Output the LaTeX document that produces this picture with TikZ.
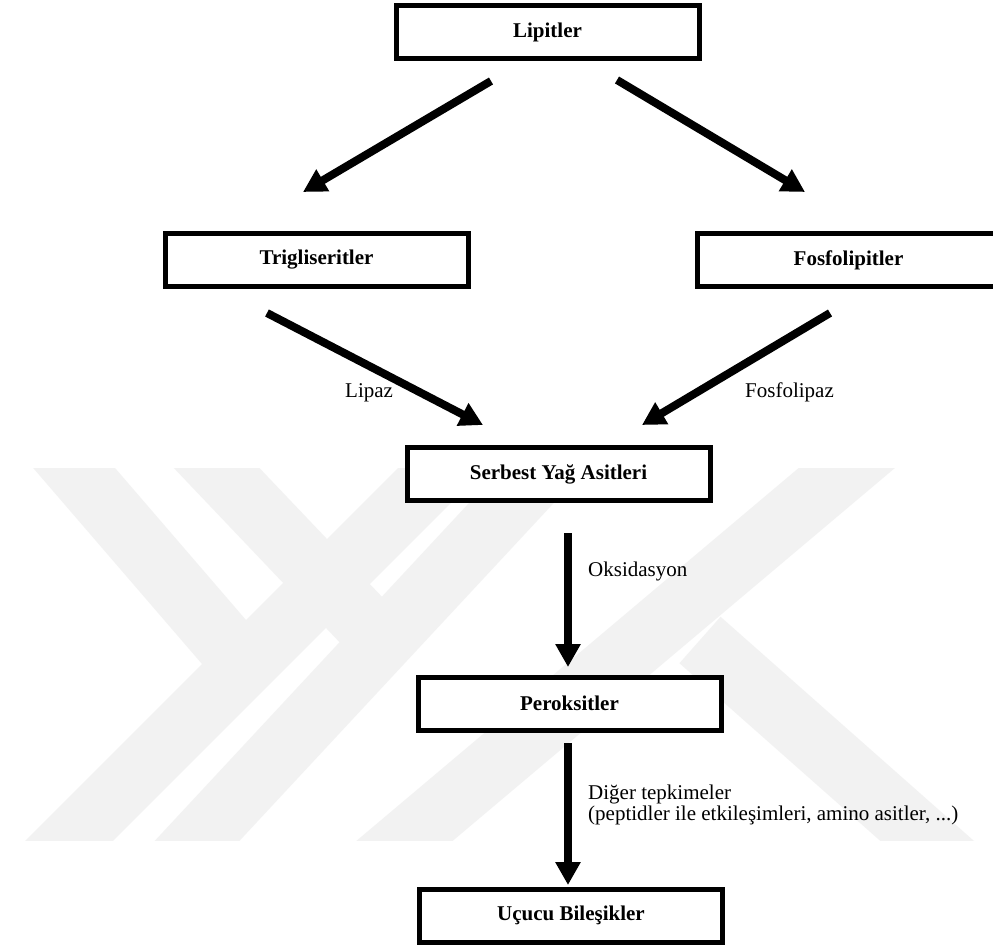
\documentclass[tikz,border=0pt]{standalone}
\usepackage{fontspec}
\setmainfont{Liberation Serif}
\usetikzlibrary{arrows.meta}
\begin{document}
\begin{tikzpicture}[x=1pt,y=-1pt,
  box/.style={draw,line width=5pt,minimum width=303pt,minimum height=53pt,inner sep=0pt,
    fill=white,font=\fontsize{21}{24}\selectfont\bfseries},
  flow/.style={line width=8pt,-{Triangle[length=23pt,width=24pt]}},
  lbl/.style={font=\fontsize{21}{24}\selectfont,inner sep=0pt},
  wm/.style={line width=62pt,draw=black!5,line cap=butt}]
\useasboundingbox (0,0) rectangle (993,949);
\fill[white] (0,0) rectangle (993,949);
% watermark
\begin{scope}
\clip (0,468) rectangle (993,840);
\draw[wm] (50,440) -- (255,678);
\draw[wm] (190,440) -- (385,645);
\draw[wm] (40,870) -- (470,440);
\draw[wm] (170,870) -- (570,440);
\draw[wm] (370,870) -- (880,440);
\draw[wm] (700,640) -- (960,870);
\end{scope}
% boxes
\node[box] (lip) at (547.5,32.5) {Lipitler};
\node[box] (tri) at (316.5,260) {Trigliseritler};
\node[box] (fos) at (848.5,260) {Fosfolipitler};
\node[box] (ser) at (558.5,474) {Serbest Yağ Asitleri};
\node[box] (per) at (569.5,703.5) {Peroksitler};
\node[box] (ucu) at (571,915.5) {Uçucu Bileşikler};
% arrow ends
\coordinate (a1s) at (491,81);  \coordinate (a1e) at (303,192);
\coordinate (a2s) at (617,80);  \coordinate (a2e) at (805,192);
\coordinate (a3s) at (267,313); \coordinate (a3e) at (483,425);
\coordinate (a4s) at (830,313); \coordinate (a4e) at (642,425);
\coordinate (a5s) at (568,533); \coordinate (a5e) at (568,667);
\coordinate (a6s) at (568,743); \coordinate (a6e) at (568,885);
\draw[flow] (a1s) -- (a1e);
\draw[flow] (a2s) -- (a2e);
\draw[flow] (a3s) -- (a3e);
\draw[flow] (a4s) -- (a4e);
\draw[flow] (a5s) -- (a5e);
\draw[flow] (a6s) -- (a6e);
% labels
\node[lbl,anchor=base west] (lipaz) at (345,397) {Lipaz};
\node[lbl,anchor=base west] (fosl) at (745,397) {Fosfolipaz};
\node[lbl,anchor=base west] (oks) at (588,576) {Oksidasyon};
\node[lbl,anchor=base west] (dig1) at (588,799) {Diğer tepkimeler};
\node[lbl,anchor=base west] (dig2) at (588,820) {(peptidler ile etkileşimleri, amino asitler, ...)};
\end{tikzpicture}
\end{document}
